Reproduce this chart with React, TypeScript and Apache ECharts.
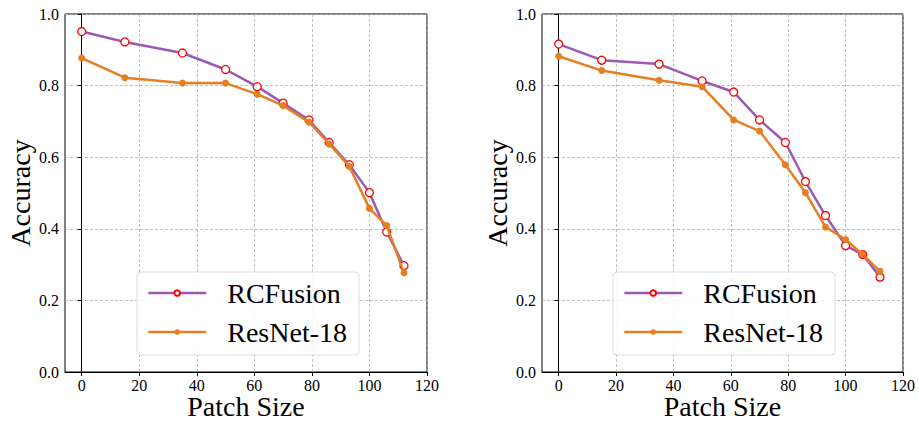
import React, { useEffect, useRef } from "react";
import * as echarts from "echarts";

const patchSizes = [0, 15, 35, 50, 61, 70, 79, 86, 93, 100, 106, 112];
const leftRCFusion = [0.951, 0.922, 0.891, 0.845, 0.797, 0.751, 0.704, 0.641, 0.579, 0.501, 0.391, 0.297];
const leftResNet = [0.877, 0.822, 0.807, 0.807, 0.776, 0.744, 0.698, 0.637, 0.574, 0.457, 0.409, 0.277];
const rightRCFusion = [0.916, 0.871, 0.86, 0.813, 0.782, 0.704, 0.641, 0.532, 0.437, 0.353, 0.328, 0.265];
const rightResNet = [0.882, 0.842, 0.815, 0.797, 0.704, 0.673, 0.579, 0.501, 0.405, 0.37, 0.328, 0.281];
const xTicks = [0, 20, 40, 60, 80, 100, 120];
const seriesNames = ["RCFusion", "ResNet-18"];

const FONT = "Liberation Serif";
const PURPLE = "#9b59b6";
const ORANGE = "#e67e22";

function pairs(xs: number[], ys: number[]) {
  return xs.map((x, i) => [x, ys[i]]);
}

export default function App() {
  const ref = useRef<HTMLDivElement>(null);
  useEffect(() => {
    if (!ref.current) return;
    const chart = echarts.init(ref.current, null, { renderer: "svg" });
    const grids = [
      { left: 65, top: 14, width: 362, height: 358, show: true, borderColor: "#000", borderWidth: 1, backgroundColor: "transparent", containLabel: false, outerBoundsMode: "none" },
      { left: 542, top: 14, width: 361, height: 358, show: true, borderColor: "#000", borderWidth: 1, backgroundColor: "transparent", containLabel: false, outerBoundsMode: "none" },
    ];
    const mkX = (gi: number) => ({
      type: "value",
      gridIndex: gi,
      min: -5.8,
      max: 120,
      name: "Patch Size",
      nameLocation: "middle",
      nameGap: 22.5,
      nameMoveOverlap: false,
      nameTextStyle: { fontFamily: FONT, fontSize: 28, lineHeight: 24, color: "#000" },
      axisLine: { show: true, onZero: false, lineStyle: { color: "#000", width: 1 } },
      axisTick: { show: true, inside: false, length: 4, customValues: xTicks, lineStyle: { color: "#000" } },
      axisLabel: { customValues: xTicks, fontFamily: FONT, fontSize: 16, lineHeight: 14, color: "#000", margin: 6 },
      splitLine: { show: true, lineStyle: { type: [3, 2], color: "#b0b0b0", width: 0.8 } },
    });
    const mkY = (gi: number) => ({
      type: "value",
      gridIndex: gi,
      min: 0,
      max: 1,
      interval: 0.2,
      name: "Accuracy",
      nameLocation: "middle",
      nameGap: 31,
      nameTextStyle: { fontFamily: FONT, fontSize: 28, color: "#000" },
      axisLine: { show: true, lineStyle: { color: "#000", width: 1 } },
      axisTick: { show: true, inside: false, length: 4, lineStyle: { color: "#000" } },
      axisLabel: { fontFamily: FONT, fontSize: 16, color: "#000", margin: 6, formatter: (v: number) => v.toFixed(1) },
      splitLine: { show: true, lineStyle: { type: [3, 2], color: "#b0b0b0", width: 0.8 } },
    });
    const rcStyle = (gi: number, data: number[]) => ({
      name: seriesNames[0],
      type: "line",
      xAxisIndex: gi,
      yAxisIndex: gi,
      data: pairs(patchSizes, data),
      symbol: "circle",
      symbolSize: 8,
      showAllSymbol: true,
      lineStyle: { color: PURPLE, width: 2.5 },
      itemStyle: { color: "#fff", borderColor: "#ff0000", borderWidth: 1.3 },
      color: PURPLE,
      z: 2,
    });
    const rnStyle = (gi: number, data: number[]) => ({
      name: seriesNames[1],
      type: "line",
      xAxisIndex: gi,
      yAxisIndex: gi,
      data: pairs(patchSizes, data),
      symbol: "circle",
      symbolSize: 7,
      showAllSymbol: true,
      lineStyle: { color: ORANGE, width: 2.5 },
      itemStyle: { color: ORANGE, borderColor: ORANGE, borderWidth: 0 },
      color: ORANGE,
      z: 3,
    });
    const mkLegend = (left: number) => ({
      left,
      top: 272,
      orient: "vertical",
      data: seriesNames,
      itemWidth: 58,
      itemHeight: 7,
      itemGap: 11,
      padding: [7, 12, 9, 10],
      backgroundColor: "rgba(255,255,255,0.85)",
      borderColor: "#dddddd",
      borderWidth: 1,
      borderRadius: 4,
      selectedMode: false,
      lineStyle: { width: 2.5 },
      textStyle: { fontFamily: FONT, fontSize: 28, color: "#000", padding: [0, 0, 0, 16] },
    });
    chart.setOption({
      animation: false,
      grid: grids,
      xAxis: [mkX(0), mkX(1)],
      yAxis: [mkY(0), mkY(1)],
      legend: [mkLegend(137), mkLegend(613)],
      series: [rcStyle(0, leftRCFusion), rnStyle(0, leftResNet), rcStyle(1, rightRCFusion), rnStyle(1, rightResNet)],
    });
    return () => chart.dispose();
  }, []);
  return (
    <div
      ref={ref}
      style={{ position: "fixed", left: 0, top: 0, width: 919, height: 422, background: "#fff" }}
    />
  );
}
